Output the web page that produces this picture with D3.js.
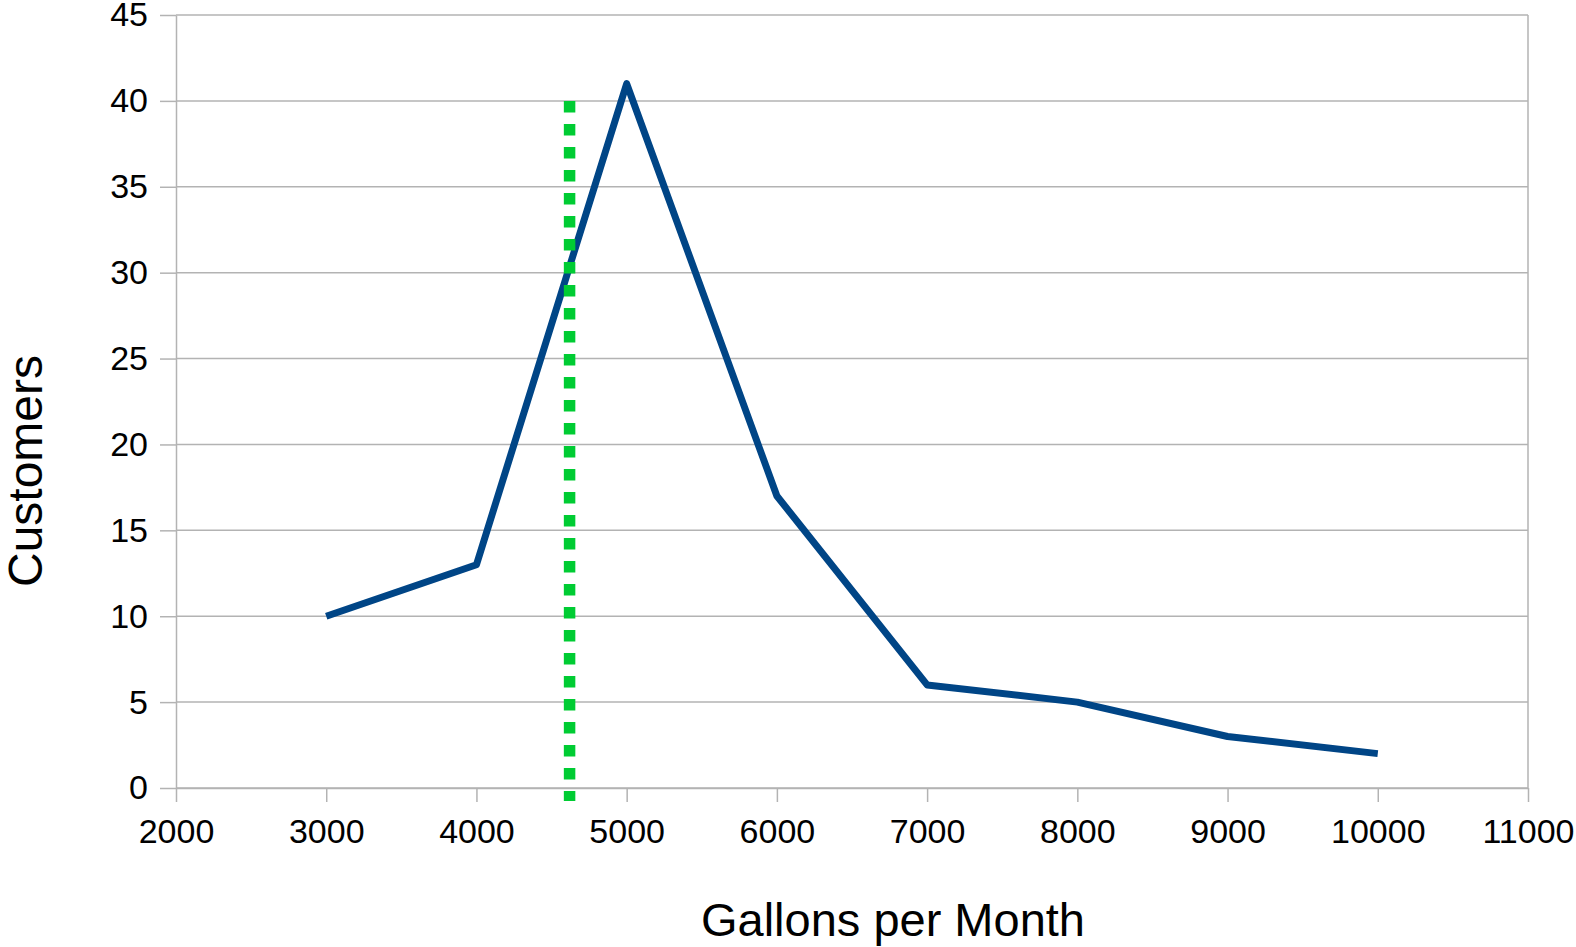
<!DOCTYPE html>
<html>
<head>
<meta charset="utf-8">
<script src="https://cdn.jsdelivr.net/npm/d3@7"></script>
<style>
  html, body { margin: 0; padding: 0; background: #ffffff; }
  svg { display: block; }
  text { font-family: "Liberation Sans", Arial, sans-serif; fill: #000; }
</style>
</head>
<body>
<svg id="chart" width="1576" height="947"></svg>
<script>
// Monthly water use: number of customers per consumption bucket
const gallons = [3000, 4000, 5000, 6000, 7000, 8000, 9000, 10000];
const customers = [10, 13, 41, 17, 6, 5, 3, 2];

// Axis ticks
const xTicks = [2000, 3000, 4000, 5000, 6000, 7000, 8000, 9000, 10000, 11000];
const yTicks = [0, 5, 10, 15, 20, 25, 30, 35, 40, 45];

// Reference marker (average usage)
const markerGallons = [4620];
const markerRange = [40, -0.75];

const xTitle = "Gallons per Month";
const yTitle = "Customers";

const svg = d3.select("#chart");
const plotLeft = 176, plotRight = 1528, plotTop = 15, plotBottom = 788;

const x = d3.scaleLinear().domain([2000, 11000]).range([plotLeft, plotRight]);
const y = d3.scaleLinear().domain([0, 45]).range([plotBottom, plotTop]);

const gridColor = "#b3b3b3";
const tickFont = 34;

// Horizontal gridlines
svg.append("g")
  .selectAll("line")
  .data(yTicks)
  .join("line")
  .attr("x1", plotLeft).attr("x2", plotRight)
  .attr("y1", d => y(d)).attr("y2", d => y(d))
  .attr("stroke", gridColor).attr("stroke-width", 1.5);

// Right border
svg.append("line")
  .attr("x1", x(11000)).attr("x2", x(11000))
  .attr("y1", y(45)).attr("y2", y(0))
  .attr("stroke", gridColor).attr("stroke-width", 1.5);

// Y axis
const yAxis = svg.append("g")
  .attr("transform", `translate(${plotLeft},0)`)
  .call(d3.axisLeft(y).tickValues(yTicks).tickSize(16).tickSizeOuter(0).tickPadding(12));
yAxis.select(".domain").attr("stroke", gridColor).attr("stroke-width", 1.5);
yAxis.selectAll(".tick line").attr("stroke", gridColor).attr("stroke-width", 1.5);
yAxis.selectAll(".tick text").attr("font-size", tickFont).attr("font-family", "Liberation Sans, Arial, sans-serif");

// X axis
const xAxis = svg.append("g")
  .attr("transform", `translate(0,${plotBottom})`)
  .call(d3.axisBottom(x).tickValues(xTicks).tickFormat(d3.format("d")).tickSize(14).tickSizeOuter(0).tickPadding(17));
xAxis.select(".domain").attr("stroke", gridColor).attr("stroke-width", 1.5);
xAxis.selectAll(".tick line").attr("stroke", gridColor).attr("stroke-width", 1.5);
xAxis.selectAll(".tick text").attr("font-size", tickFont).attr("font-family", "Liberation Sans, Arial, sans-serif");

// Data line
const line = d3.line()
  .x((d, i) => x(gallons[i]))
  .y(d => y(d));

svg.append("path")
  .datum(customers)
  .attr("d", line)
  .attr("fill", "none")
  .attr("stroke", "#004586")
  .attr("stroke-width", 7)
  .attr("stroke-linejoin", "round")
  .attr("stroke-linecap", "butt");

// Dotted marker line
svg.append("g")
  .selectAll("line")
  .data(markerGallons)
  .join("line")
  .attr("x1", d => x(d)).attr("x2", d => x(d))
  .attr("y1", y(markerRange[0])).attr("y2", y(markerRange[1]))
  .attr("stroke", "#00cc33")
  .attr("stroke-width", 11.5)
  .attr("stroke-dasharray", "11.5 11.5");

// Axis titles
svg.append("text")
  .attr("x", 893).attr("y", 936)
  .attr("text-anchor", "middle")
  .attr("font-size", 47)
  .text(xTitle);

svg.append("text")
  .attr("transform", "translate(42,471) rotate(-90)")
  .attr("text-anchor", "middle")
  .attr("font-size", 48)
  .text(yTitle);
</script>
</body>
</html>
